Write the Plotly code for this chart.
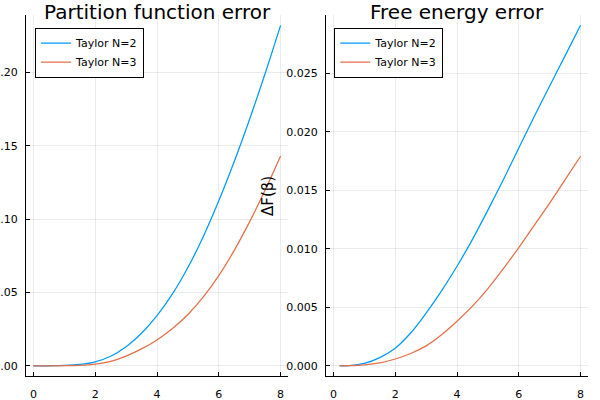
import plotly.graph_objects as go

# ---- data ----
beta_z = [0, 0.5, 1, 1.5, 2, 2.5, 3, 3.5, 4, 4.5, 5, 5.5, 6, 6.5, 7, 7.5, 8]
dz_n2 = [0, 0.00001, 0.00021, 0.00091, 0.0027, 0.0065, 0.0130, 0.0222, 0.0342,
         0.0490, 0.0670, 0.0882, 0.1125, 0.1393, 0.1683, 0.1993, 0.2321]
dz_n3 = [0, 0.00001, 0.00006, 0.0003, 0.0011, 0.0030, 0.0066, 0.0115, 0.0176,
         0.0254, 0.0350, 0.0470, 0.0615, 0.0787, 0.0983, 0.1198, 0.1430]

beta_f = [0.2, 0.5, 1, 1.5, 2, 2.5, 3, 3.5, 4, 4.5, 5, 5.5, 6, 6.5, 7, 7.5, 8]
df_n2 = [0, 0.00002, 0.0002, 0.0007, 0.0015, 0.0028, 0.0045, 0.0064, 0.0085,
         0.0108, 0.0133, 0.0159, 0.0186, 0.0213, 0.0239, 0.0265, 0.0291]
df_n3 = [0, 0.00001, 0.00008, 0.00025, 0.00058, 0.00105, 0.0017, 0.00265, 0.0038,
         0.0051, 0.0066, 0.0083, 0.0101, 0.0120, 0.0139, 0.0159, 0.0179]

series_names = ["Taylor N=2", "Taylor N=3"]
x_ticks = [0, 2, 4, 6, 8]
z_ticks = [0.0, 0.05, 0.10, 0.15, 0.20]
f_ticks = [0.0, 0.005, 0.010, 0.015, 0.020, 0.025]
titles = ["Partition function error", "Free energy error"]
ylabel_right = "ΔF(β)"

BLUE = "#009AFA"
RED = "#E36F47"
FONT = "DejaVu Sans"

fig = go.Figure()
for name, ys, col in [(series_names[0], dz_n2, BLUE), (series_names[1], dz_n3, RED)]:
    fig.add_trace(go.Scatter(x=beta_z, y=ys, mode="lines", name=name,
                             line=dict(color=col, width=1.25, shape="spline", smoothing=1.0),
                             xaxis="x", yaxis="y", legend="legend"))
for name, ys, col in [(series_names[0], df_n2, BLUE), (series_names[1], df_n3, RED)]:
    fig.add_trace(go.Scatter(x=beta_f, y=ys, mode="lines", name=name,
                             line=dict(color=col, width=1.25, shape="spline", smoothing=1.0),
                             xaxis="x2", yaxis="y2", legend="legend2"))

W, H = 600, 400
yd = [1 - 376 / H, 1 - 15 / H]
axis_common = dict(showline=True, linecolor="black", linewidth=1,
                   ticks="inside", ticklen=4, tickwidth=1, tickcolor="black",
                   showgrid=True, gridcolor="rgba(0,0,0,0.08)", gridwidth=1,
                   zeroline=False, automargin=False,
                   tickfont=dict(family=FONT, size=11, color="black"))

fig.update_layout(
    width=W, height=H,
    margin=dict(l=0, r=0, t=0, b=0),
    paper_bgcolor="white", plot_bgcolor="white",
    font=dict(family=FONT, color="black"),
    xaxis=dict(domain=[26 / W, 288 / W], range=[-0.24, 8.24], tickvals=x_ticks,
               anchor="y", ticklabelstandoff=8, **axis_common),
    yaxis=dict(domain=yd, range=[-0.00697, 0.2392], tickvals=z_ticks,
               tickformat=".2f", anchor="x", ticklabelstandoff=5, **axis_common),
    xaxis2=dict(domain=[326 / W, 588 / W], range=[-0.24, 8.24], tickvals=x_ticks,
                anchor="y2", ticklabelstandoff=8, **axis_common),
    yaxis2=dict(domain=yd, range=[-0.000873, 0.02997], tickvals=f_ticks,
                tickformat=".3f", anchor="x2", ticklabelstandoff=5, **axis_common),
    legend=dict(x=35 / W, y=1 - 27.7 / H, xanchor="left", yanchor="top",
                bgcolor="white", bordercolor="black", borderwidth=1,
                font=dict(family=FONT, size=11), itemwidth=30,
                tracegroupgap=0),
    legend2=dict(x=334.3 / W, y=1 - 27.7 / H, xanchor="left", yanchor="top",
                 bgcolor="white", bordercolor="black", borderwidth=1,
                 font=dict(family=FONT, size=11), itemwidth=30,
                 tracegroupgap=0),
    showlegend=True,
    annotations=[
        dict(text=titles[0], x=157 / W, y=1 - 12 / H, xref="paper", yref="paper",
             showarrow=False, font=dict(family=FONT, size=20), xanchor="center",
             yanchor="middle"),
        dict(text=titles[1], x=457 / W, y=1 - 12 / H, xref="paper", yref="paper",
             showarrow=False, font=dict(family=FONT, size=20), xanchor="center",
             yanchor="middle"),
        dict(text=ylabel_right, x=267.5 / W, y=1 - 196.5 / H, xref="paper",
             yref="paper", showarrow=False, textangle=-90,
             font=dict(family=FONT, size=15), xanchor="center", yanchor="middle"),
    ],
)

fig.write_html("out.html", config={"displayModeBar": False},
               post_script="document.body.style.margin='0';document.body.style.overflow='hidden';")
